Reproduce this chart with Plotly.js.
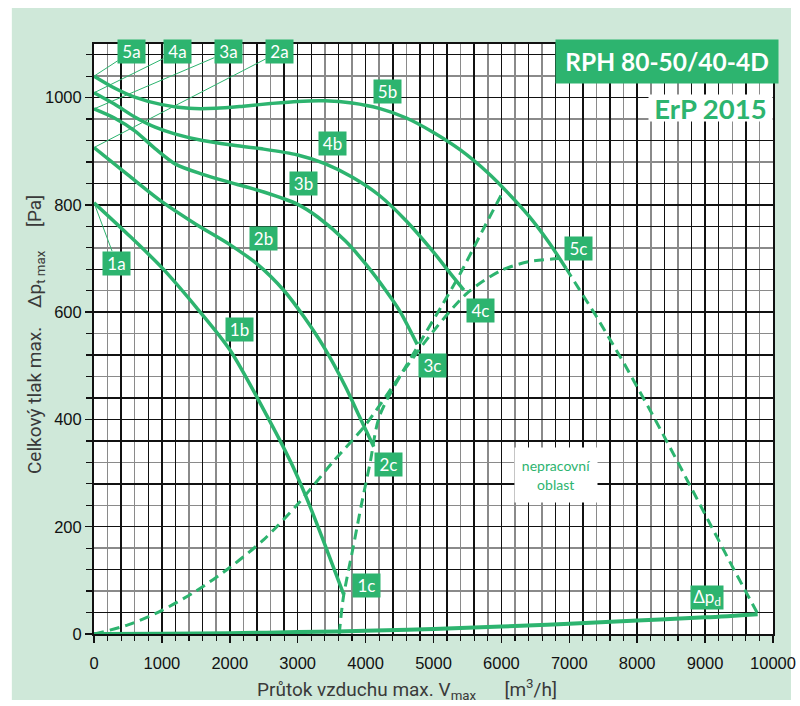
<!DOCTYPE html>
<html><head><meta charset="utf-8">
<script src="https://cdn.plot.ly/plotly-3.0.1.min.js"></script>
<style>html,body{margin:0;padding:0;background:#fff;} #chart{width:800px;height:706px;}</style>
</head><body><div id="chart"></div>
<script>
// ---- data (flow m3/h, total pressure Pa) ----
const flow1 = [0, 500, 1000, 1500, 2000, 2500, 2900, 3200, 3450, 3677];
const press1 = [804, 745, 683, 610, 530, 418, 320, 232, 150, 74];
const flow2 = [0, 500, 1000, 1500, 2000, 2400, 2800, 3100, 3400, 3700, 3900, 4120];
const press2 = [907, 856, 806, 764, 726, 690, 640, 590, 532, 462, 408, 349];
const flow3 = [0, 300, 600, 900, 1200, 1600, 2000, 2500, 3000, 3300, 3700, 4000, 4300, 4500, 4760];
const press3 = [979, 962, 938, 905, 876, 857, 842, 824, 801, 777, 733, 690, 640, 603, 540];
const flow4 = [0, 300, 600, 900, 1200, 1600, 2000, 2500, 3000, 3400, 3800, 4200, 4600, 5000, 5250, 5447];
const press4 = [1009, 988, 964, 945, 932, 920, 912, 904, 893, 877, 852, 818, 770, 712, 672, 641];
const flow5 = [0, 300, 600, 1000, 1400, 1800, 2200, 2600, 3000, 3400, 3800, 4200, 4600, 5000, 5400, 5800, 6100, 6400, 6700, 6950];
const press5 = [1040, 1018, 1001, 987, 980, 980, 984, 989, 993, 994, 990, 980, 962, 935, 902, 860, 822, 780, 730, 682];
const flow5Dash = [6950, 7400, 7800, 8200, 8600, 9000, 9400, 9774];
const press5Dash = [682, 592, 506, 415, 320, 222, 126, 38];
const flowDyn = [0, 1000, 2000, 3000, 4000, 5000, 6000, 7000, 8000, 9000, 9774];
const pressDyn = [0, 0.4, 1.5, 3.5, 6, 9.5, 14, 19, 25, 31, 37];
const flowLineA = [3612, 3672, 3819, 3943, 4065, 4210, 4808, 5103, 5398, 5742, 6037];
const pressLineA = [0, 68, 163, 244, 318, 408, 545, 608, 673, 757, 828];
const flowLineB = [0, 500, 1000, 1500, 2000, 2500, 3000, 3500, 4000, 4500, 5000, 5500, 6000, 6400, 6850];
const pressLineB = [0, 17, 44, 80, 124, 176, 242, 318, 390, 480, 565, 636, 678, 694, 700];

const xTickVals = [0, 1000, 2000, 3000, 4000, 5000, 6000, 7000, 8000, 9000, 10000];
const xTickText = ['0', '1000', '2000', '3000', '4000', '5000', '6000', '7000', '8000', '9000', '10000'];
const yTickVals = [0, 200, 400, 600, 800, 1000];
const yTickText = ['0', '200', '400', '600', '800', '1000'];

// ---- styles ----
const GREEN = '#2db46f';
const BG = '#cfe8d9';
const solid = {color: GREEN, width: 3.5, shape: 'spline', smoothing: 0.8};
const dashed = {color: GREEN, width: 3, dash: '10px,6px', shape: 'spline', smoothing: 0.8};

function tr(x, y, line) {
  return {type: 'scatter', mode: 'lines', x: x, y: y, line: line, hoverinfo: 'skip', showlegend: false, cliponaxis: false};
}

const traces = [
  tr(flowLineB, pressLineB, dashed),
  tr(flowLineA, pressLineA, dashed),
  tr(flow5Dash, press5Dash, Object.assign({}, dashed, {shape: 'linear'})),
  tr(flow1, press1, solid),
  tr(flow2, press2, solid),
  tr(flow3, press3, solid),
  tr(flow4, press4, solid),
  tr(flow5, press5, solid),
  tr(flowDyn, pressDyn, {color: GREEN, width: 4, shape: 'spline'}),
  // carrier for the overlay grid axes
  {type: 'scatter', mode: 'markers', x: [0], y: [0], xaxis: 'x2', yaxis: 'y2', marker: {opacity: 0}, hoverinfo: 'skip', showlegend: false}
];

const lblFont = {family: 'Lato, sans-serif', size: 17, color: '#ffffff'};
function boxLabel(text, x, y, w) {
  return {x: x, y: y, xref: 'x', yref: 'y', text: text, showarrow: false,
    bgcolor: GREEN, font: lblFont, width: w || 27, height: 23, borderpad: 0,
    xanchor: 'center', yanchor: 'middle'};
}
function arrowLabel(text, x, y, ax, ay) {
  return {x: x, y: y, xref: 'x', yref: 'y', text: text, showarrow: true,
    ax: ax, ay: ay, arrowhead: 0, arrowwidth: 1, arrowcolor: GREEN, standoff: 0,
    bgcolor: GREEN, font: lblFont, width: 27, height: 23, borderpad: 0};
}

const nb = '\u00a0';
const titleFont = {family: 'Roboto, sans-serif', size: 19, color: '#3a3a3a'};
const annotations = [
  arrowLabel('5a', flow5[0], press5[0], 37.7, -24.5),
  arrowLabel('4a', flow4[0], press4[0], 83.3, -41.1),
  arrowLabel('3a', flow3[0], press3[0], 134.3, -57.2),
  arrowLabel('2a', flow2[0], press2[0], 185.7, -95.8),
  arrowLabel('1a', flow1[0], press1[0], 22.5, 60.3),
  boxLabel('5b', 4325, 1012),
  boxLabel('4b', 3515, 915),
  boxLabel('3b', 3082, 840),
  boxLabel('2b', 2489, 738),
  boxLabel('1b', 2146, 567),
  boxLabel('1c', 4006, 90),
  boxLabel('2c', 4334, 316),
  boxLabel('3c', 4988, 501),
  boxLabel('4c', 5689, 604),
  boxLabel('5c', 7133, 719),
  boxLabel('Δp<sub>d</sub>', 9025, 68, 32),
  {x: 6804, y: 296, xref: 'x', yref: 'y', text: 'nepracovní<br>oblast', showarrow: false,
   bgcolor: '#ffffff', width: 82, height: 54, borderpad: 0,
   font: {family: 'Lato, sans-serif', size: 14, color: GREEN}},
  {x: 0.8436, y: 0.970, xref: 'paper', yref: 'paper', text: '<b>RPH 80-50/40-4D</b>', showarrow: false,
   bgcolor: GREEN, width: 222, height: 43, borderpad: 0, xanchor: 'center', yanchor: 'middle',
   font: {family: 'Lato, sans-serif', size: 24.5, color: '#ffffff'}},
  {x: 0.908, y: 0.8915, xref: 'paper', yref: 'paper', text: '<b>ErP 2015</b>', showarrow: false,
   bgcolor: '#ffffff', width: 123, height: 26, borderpad: 0, xanchor: 'center', yanchor: 'middle',
   font: {family: 'Lato, sans-serif', size: 27.5, color: GREEN}},
  // axis titles
  {x: 0.4617, y: -0.0949, xref: 'paper', yref: 'paper', xanchor: 'center', yanchor: 'middle', showarrow: false,
   text: 'Průtok vzduchu max. V<sub>max</sub>' + nb.repeat(6) + '[m<sup>3</sup>/h]', font: titleFont},
  {x: -0.0854, y: 0.5068, xref: 'paper', yref: 'paper', xanchor: 'center', yanchor: 'middle', showarrow: false,
   textangle: -90,
   text: 'Celkový tlak max.' + nb.repeat(4) + 'Δp<sub>t max</sub>' + nb.repeat(5) + '[Pa]', font: titleFont}
];

const tickFont = {family: 'Liberation Sans, Arial, sans-serif', size: 16.5, color: '#111'};

const layout = {
  width: 800, height: 706,
  margin: {l: 94, r: 27, t: 44, b: 72, pad: 0},
  paper_bgcolor: '#ffffff',
  plot_bgcolor: '#ffffff',
  showlegend: false,
  hovermode: false,
  xaxis: {
    range: [0, 10000], tickmode: 'array', tickvals: xTickVals, ticktext: xTickText,
    ticks: 'outside', ticklen: 7, tickwidth: 1.5, tickcolor: '#111', ticklabelstandoff: 6,
    showgrid: true, gridcolor: '#111', gridwidth: 1.5,
    minor: {tickmode: 'linear', tick0: 0, dtick: 200, ticks: 'outside', ticklen: 5, tickwidth: 1.2, tickcolor: '#111',
            showgrid: true, gridcolor: '#8a8a8a', gridwidth: 1.5},
    showline: true, linecolor: '#111', linewidth: 2, mirror: true, zeroline: false,
    tickfont: tickFont
  },
  yaxis: {
    range: [0, 1100], tickmode: 'array', tickvals: yTickVals, ticktext: yTickText,
    ticks: 'outside', ticklen: 7, tickwidth: 1.5, tickcolor: '#111',
    showgrid: true, gridcolor: '#111', gridwidth: 1.5,
    minor: {tickmode: 'linear', tick0: 0, dtick: 40, ticks: 'outside', ticklen: 6, tickwidth: 1.2, tickcolor: '#111',
            showgrid: true, gridcolor: '#8a8a8a', gridwidth: 1.5},
    showline: true, linecolor: '#111', linewidth: 2, mirror: true, zeroline: false,
    tickfont: tickFont
  },
  xaxis2: {overlaying: 'x', range: [0, 10000], tickmode: 'linear', tick0: 0, dtick: 400,
           showgrid: true, gridcolor: '#111', gridwidth: 1.5, showticklabels: false, ticks: '',
           showline: false, zeroline: false},
  yaxis2: {overlaying: 'y', range: [0, 1100], tickmode: 'linear', tick0: 40, dtick: 80,
           showgrid: true, gridcolor: '#111', gridwidth: 1.5, showticklabels: false, ticks: '',
           showline: false, zeroline: false},
  shapes: [
    {type: 'rect', xref: 'paper', yref: 'paper', x0: -0.121, x1: 1.0265, y0: -0.112, y1: 1.061,
     fillcolor: BG, line: {width: 0}, layer: 'below'},
    {type: 'rect', xref: 'paper', yref: 'paper', x0: 0, x1: 1, y0: 0, y1: 1,
     fillcolor: '#ffffff', line: {width: 0}, layer: 'below'}
  ],
  annotations: annotations
};

Plotly.newPlot('chart', traces, layout, {displayModeBar: false, staticPlot: true});
</script>
</body></html>
